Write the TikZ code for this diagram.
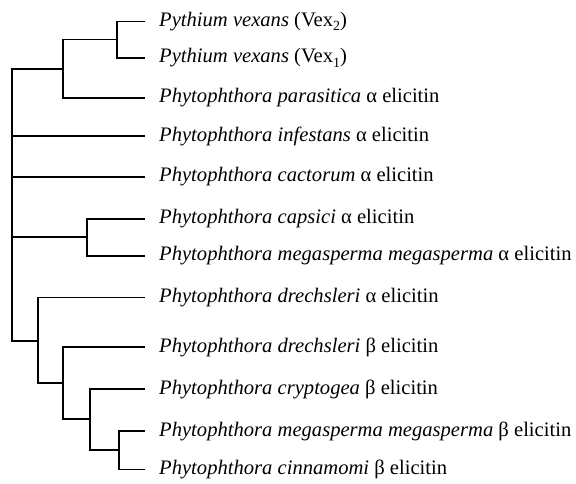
\documentclass[tikz,border=0pt]{standalone}
\usepackage{fontspec}
\setmainfont{Liberation Serif}
\newcommand{\lowsub}[1]{\raisebox{-0.45ex}{\fontsize{14}{16}\selectfont #1}}
\begin{document}
\begin{tikzpicture}[x=1pt,y=-1pt,
  branch/.style={line width=1.4pt},
  leaf/.style={anchor=west,inner xsep=14pt,inner ysep=0pt,font=\fontsize{20.6}{23}\selectfont}]
\useasboundingbox (0,0) rectangle (576,484);
% leaves
\node[leaf] (vex2) at (145,21.5) {\textit{Pythium vexans} (Vex\lowsub{2})};
\node[leaf] (vex1) at (145,58) {\textit{Pythium vexans} (Vex\lowsub{1})};
\node[leaf] (par) at (145,98) {\textit{Phytophthora parasitica} α elicitin};
\node[leaf] (inf) at (145,136) {\textit{Phytophthora infestans} α elicitin};
\node[leaf] (cac) at (145,177) {\textit{Phytophthora cactorum} α elicitin};
\node[leaf] (cap) at (145,219) {\textit{Phytophthora capsici} α elicitin};
\node[leaf] (mma) at (145,256) {\textit{Phytophthora megasperma megasperma} α elicitin};
\node[leaf] (dra) at (145,297.5) {\textit{Phytophthora drechsleri} α elicitin};
\node[leaf] (drb) at (145,347) {\textit{Phytophthora drechsleri} β elicitin};
\node[leaf] (cry) at (145,389) {\textit{Phytophthora cryptogea} β elicitin};
\node[leaf] (mmb) at (145,431) {\textit{Phytophthora megasperma megasperma} β elicitin};
\node[leaf] (cin) at (145,469.5) {\textit{Phytophthora cinnamomi} β elicitin};
% internal nodes
\coordinate (b) at (117,39.75);
\coordinate (a) at (63,69);
\coordinate (c) at (87,237);
\coordinate (g) at (119,450);
\coordinate (f) at (90,419);
\coordinate (e) at (63,383);
\coordinate (d) at (38,341);
\coordinate (r) at (12,200);
% branches
\draw[branch] (b) |- (vex2.west);
\draw[branch] (b) |- (vex1.west);
\draw[branch] (a) |- (b);
\draw[branch] (a) |- (par.west);
\draw[branch] (c) |- (cap.west);
\draw[branch] (c) |- (mma.west);
\draw[branch] (g) |- (mmb.west);
\draw[branch] (g) |- (cin.west);
\draw[branch] (f) |- (cry.west);
\draw[branch] (f) |- (g);
\draw[branch] (e) |- (drb.west);
\draw[branch] (e) |- (f);
\draw[branch] (d) |- (dra.west);
\draw[branch] (d) |- (e);
\draw[branch] (r) |- (a);
\draw[branch] (r) |- (inf.west);
\draw[branch] (r) |- (cac.west);
\draw[branch] (r) |- (c);
\draw[branch] (r) |- (d);
\end{tikzpicture}
\end{document}
